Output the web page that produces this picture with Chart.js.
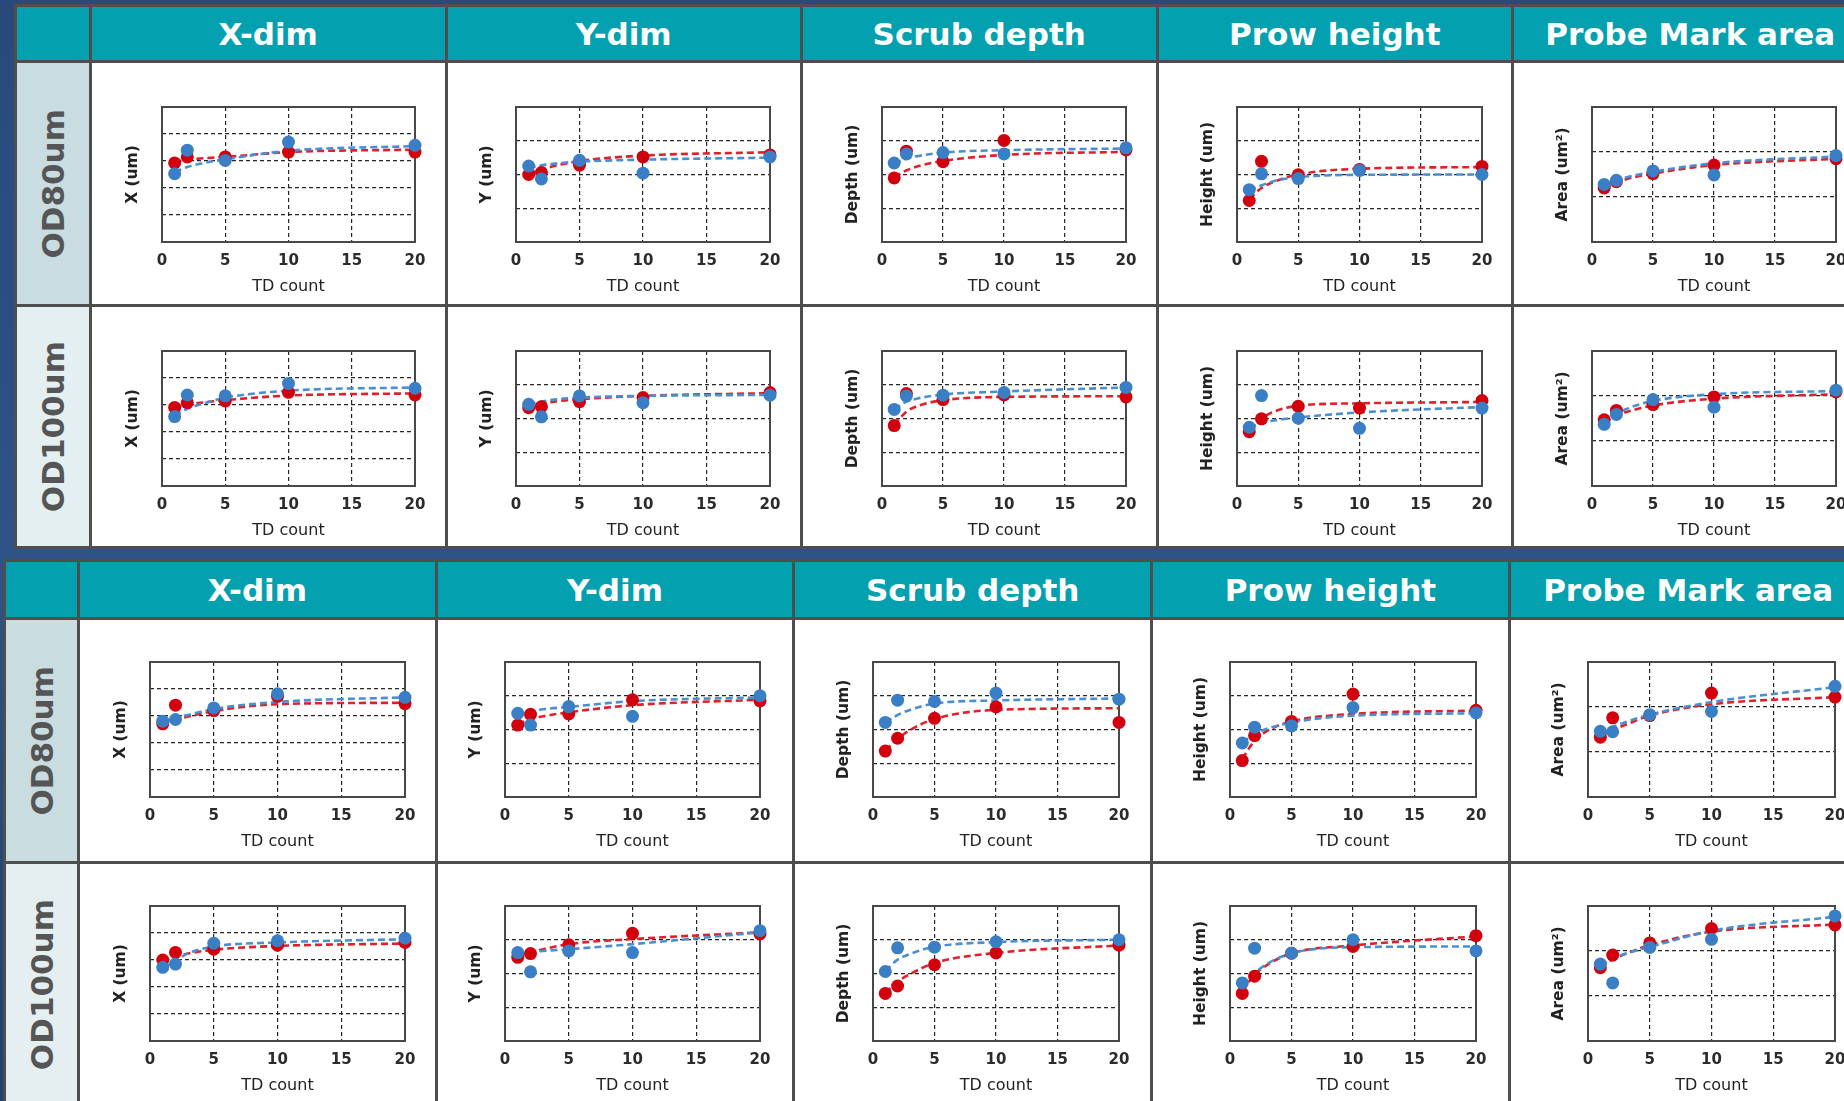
<!DOCTYPE html>
<html>
<head>
<meta charset="utf-8">
<title>TD count trends</title>
<script src="https://cdn.jsdelivr.net/npm/chart.js@4.4.1/dist/chart.umd.min.js"></script>
<style>
  html, body { margin: 0; padding: 0; width: 1844px; height: 1101px; overflow: hidden; }
  body {
    font-family: "DejaVu Sans", sans-serif;
    background: linear-gradient(180deg, #29497a 0%, #2e5387 50%, #20406e 100%);
  }
  .tbl { position: absolute; display: grid; background: #4e4e4e; gap: 3px; padding: 3px; }
  .hd {
    background: #03a0af; color: #fff; font-weight: bold; font-size: 31px;
    display: flex; align-items: center; justify-content: center; white-space: nowrap; overflow: hidden;
  }
  .rl { display: flex; align-items: center; justify-content: center; color: #555; font-weight: bold; font-size: 31px; }
  .rl span { writing-mode: vertical-rl; transform: rotate(180deg); }
  .cell { background: #fff; position: relative; overflow: hidden; }
  .cell canvas { position: absolute; left: 0; top: 0; }
</style>
</head>
<body>
<div id="t1" class="tbl"></div>
<div id="t2" class="tbl"></div>
<script>
/* Values are read off the picture, in grid-line units counted from the bottom of each box.
 * Column order everywhere: X-dim, Y-dim, Scrub depth, Prow height, Probe Mark area. */
var METRICS = ["X-dim", "Y-dim", "Scrub depth", "Prow height", "Probe Mark area"];
var Y_TITLES = ["X (um)", "Y (um)", "Depth (um)", "Height (um)", "Area (um\u00B2)"];
var Y_DIVS = [5, 4, 4, 4, 3];
var ROW_NAMES = ["OD80um", "OD100um"];
var X_TICKS = [0, 5, 10, 15, 20];
var TD = [1, 2, 5, 10, 20];          // measured points
var FIT_TD = [1, 2, 3, 5, 10, 20];   // where the dashed fit lines were read

// ---- upper table ----
var T1_OD80_RED  = [[2.93, 3.15, 3.15, 3.33, 3.33], [2.00, 2.06, 2.28, 2.52, 2.58], [1.90, 2.69, 2.38, 3.01, 2.73], [1.23, 2.39, 1.99, 2.15, 2.24], [1.20, 1.34, 1.52, 1.71, 1.85]];
var T1_OD80_BLUE = [[2.53, 3.40, 3.02, 3.70, 3.58], [2.25, 1.87, 2.42, 2.04, 2.52], [2.34, 2.61, 2.65, 2.61, 2.79], [1.55, 2.02, 1.88, 2.12, 2.00], [1.28, 1.37, 1.58, 1.49, 1.92]];
var T1_OD80_RED_FIT  = [[2.96, 3.04, 3.09, 3.15, 3.33, 3.42], [2.03, 2.15, 2.25, 2.40, 2.56, 2.66], [1.92, 2.12, 2.25, 2.40, 2.58, 2.67], [1.28, 1.60, 1.78, 2.00, 2.17, 2.22], [1.20, 1.32, 1.41, 1.52, 1.71, 1.85]];
var T1_OD80_BLUE_FIT = [[2.60, 2.78, 2.90, 3.06, 3.38, 3.55], [2.20, 2.27, 2.32, 2.38, 2.44, 2.50], [2.32, 2.47, 2.55, 2.65, 2.72, 2.77], [1.53, 1.68, 1.80, 1.92, 1.99, 2.00], [1.26, 1.37, 1.45, 1.56, 1.75, 1.90]];

var T1_OD100_RED  = [[2.91, 3.09, 3.15, 3.47, 3.37], [2.32, 2.35, 2.50, 2.62, 2.77], [1.79, 2.74, 2.56, 2.70, 2.64], [1.61, 1.99, 2.36, 2.31, 2.53], [1.47, 1.68, 1.81, 1.98, 2.09]];
var T1_OD100_BLUE = [[2.57, 3.37, 3.34, 3.80, 3.62], [2.42, 2.05, 2.67, 2.47, 2.69], [2.27, 2.67, 2.69, 2.77, 2.92], [1.74, 2.68, 2.01, 1.71, 2.31], [1.37, 1.59, 1.92, 1.75, 2.13]];
var T1_OD100_RED_FIT  = [[2.93, 3.02, 3.08, 3.18, 3.35, 3.43], [2.35, 2.44, 2.50, 2.57, 2.67, 2.75], [1.81, 2.20, 2.38, 2.54, 2.64, 2.66], [1.66, 2.00, 2.20, 2.38, 2.45, 2.49], [1.42, 1.57, 1.66, 1.79, 1.94, 2.04]];
var T1_OD100_BLUE_FIT = [[2.60, 2.86, 3.02, 3.27, 3.53, 3.65], [2.42, 2.50, 2.56, 2.62, 2.67, 2.70], [2.27, 2.50, 2.60, 2.71, 2.80, 2.92], [1.74, 1.86, 1.94, 2.03, 2.18, 2.34], [1.40, 1.60, 1.73, 1.89, 2.04, 2.11]];

// ---- lower table ----
var T2_OD80_RED  = [[2.71, 3.40, 3.20, 3.73, 3.46], [2.13, 2.45, 2.46, 2.88, 2.85], [1.36, 1.74, 2.33, 2.67, 2.21], [1.08, 1.82, 2.24, 3.05, 2.57], [1.33, 1.76, 1.81, 2.31, 2.22]];
var T2_OD80_BLUE = [[2.81, 2.87, 3.30, 3.82, 3.69], [2.48, 2.13, 2.68, 2.39, 3.00], [2.21, 2.87, 2.83, 3.08, 2.90], [1.60, 2.07, 2.11, 2.65, 2.49], [1.46, 1.45, 1.83, 1.90, 2.46]];
var T2_OD80_RED_FIT  = [[2.75, 2.87, 2.98, 3.18, 3.44, 3.49], [2.16, 2.30, 2.39, 2.51, 2.72, 2.88], [1.38, 1.72, 1.98, 2.31, 2.58, 2.63], [1.13, 1.67, 1.95, 2.24, 2.46, 2.56], [1.36, 1.49, 1.60, 1.81, 2.06, 2.22]];
var T2_OD80_BLUE_FIT = [[2.81, 2.93, 3.04, 3.26, 3.52, 3.69], [2.43, 2.53, 2.60, 2.67, 2.84, 2.95], [2.21, 2.43, 2.58, 2.77, 2.86, 2.92], [1.62, 1.87, 2.02, 2.21, 2.41, 2.48], [1.41, 1.55, 1.66, 1.83, 2.11, 2.44]];

var T2_OD100_RED  = [[3.00, 3.28, 3.40, 3.55, 3.65], [2.48, 2.59, 2.85, 3.19, 3.17], [1.41, 1.63, 2.26, 2.61, 2.84], [1.41, 1.92, 2.60, 2.80, 3.12], [1.63, 1.91, 2.18, 2.50, 2.58]];
var T2_OD100_BLUE = [[2.73, 2.85, 3.62, 3.71, 3.81], [2.62, 2.05, 2.67, 2.62, 3.27], [2.06, 2.76, 2.78, 2.94, 3.00], [1.72, 2.75, 2.60, 3.00, 2.67], [1.71, 1.29, 2.08, 2.26, 2.78]];
var T2_OD100_RED_FIT  = [[2.94, 3.12, 3.24, 3.38, 3.52, 3.61], [2.52, 2.62, 2.72, 2.87, 3.02, 3.22], [1.43, 1.76, 1.98, 2.31, 2.61, 2.83], [1.47, 1.97, 2.25, 2.60, 2.83, 3.10], [1.65, 1.81, 1.93, 2.13, 2.43, 2.59]];
var T2_OD100_BLUE_FIT = [[2.73, 2.97, 3.25, 3.50, 3.65, 3.77], [2.57, 2.63, 2.67, 2.72, 2.87, 3.22], [2.08, 2.41, 2.58, 2.79, 2.93, 3.00], [1.67, 2.01, 2.28, 2.60, 2.78, 2.80], [1.69, 1.83, 1.94, 2.09, 2.45, 2.76]];

var COL = { red: "#d2000c", blue: "#3a7fc5", redFit: "#e0202b", blueFit: "#4a8fd2" };
var FONT = "'DejaVu Sans', sans-serif";

// Placement of each table and of the plot box inside its cells (px).
var LAYOUT = {
  t1: { left: 14, top: 4, labelW: 72, colW: 352.5, headH: 53, rowH: [241, 239], labelBg: ["#c8dce1", "#e4eff1"],
        boxTop: 44, boxH: 135, boxLeft: [70, 68, 79, 78, 78], boxRight: [29, 30, 29, 29, 30] },
  t2: { left: 3, top: 559, labelW: 71, colW: 354.7, headH: 55, rowH: [241, 241], labelBg: ["#c9dde1", "#e5eff2"],
        boxTop: 42, boxH: 135, boxLeft: [70, 67, 78, 77, 77], boxRight: [29, 32, 30, 31, 30] }
};

var TABLES = [
  { id: "t1", rows: [
    { red: T1_OD80_RED, blue: T1_OD80_BLUE, redFit: T1_OD80_RED_FIT, blueFit: T1_OD80_BLUE_FIT },
    { red: T1_OD100_RED, blue: T1_OD100_BLUE, redFit: T1_OD100_RED_FIT, blueFit: T1_OD100_BLUE_FIT }
  ] },
  { id: "t2", rows: [
    { red: T2_OD80_RED, blue: T2_OD80_BLUE, redFit: T2_OD80_RED_FIT, blueFit: T2_OD80_BLUE_FIT },
    { red: T2_OD100_RED, blue: T2_OD100_BLUE, redFit: T2_OD100_RED_FIT, blueFit: T2_OD100_BLUE_FIT }
  ] }
];

/* solid frame round the plot area, drawn over the dashed grid */
var boxPlugin = {
  id: "box",
  beforeDatasetsDraw: function (chart) {
    var a = chart.chartArea, ctx = chart.ctx;
    ctx.save();
    ctx.strokeStyle = "#484848";
    ctx.lineWidth = 2;
    ctx.strokeRect(a.left, a.top, a.right - a.left, a.bottom - a.top);
    ctx.restore();
  }
};

function pairs(xs, ys) {
  return xs.map(function (x, i) { return { x: x, y: ys[i] }; });
}
function ptsDS(data, color, order) {
  return { data: data, backgroundColor: color, borderWidth: 0, pointRadius: 6.5, showLine: false, order: order, clip: false };
}
function fitDS(data, color, order) {
  return { data: data, borderColor: color, borderWidth: 2.6, borderDash: [7, 4], pointRadius: 0, showLine: true,
           cubicInterpolationMode: "monotone", order: order, clip: false };
}

function makeChart(canvas, m, row, L, R, T, B) {
  var yMax = Y_DIVS[m];
  var xTitleLH = 16 * 1.2;
  new Chart(canvas, {
    type: "scatter",
    data: { datasets: [
      fitDS(pairs(FIT_TD, row.redFit[m]), COL.redFit, 4),
      fitDS(pairs(FIT_TD, row.blueFit[m]), COL.blueFit, 3),
      ptsDS(pairs(TD, row.red[m]), COL.red, 2),
      ptsDS(pairs(TD, row.blue[m]), COL.blue, 1)
    ] },
    options: {
      responsive: false, animation: false, events: [],
      layout: { padding: { left: L - 38, top: T, right: R, bottom: 0 } },
      plugins: { legend: { display: false }, tooltip: { enabled: false } },
      scales: {
        x: {
          type: "linear", min: 0, max: 20,
          afterBuildTicks: function (s) { s.ticks = X_TICKS.map(function (v) { return { value: v }; }); },
          afterFit: function (s) { s.height = B; s.paddingLeft = 0; s.paddingRight = 0; },
          grid: { drawTicks: false, lineWidth: 1.2,
                  color: function (c) { var v = c.tick && c.tick.value; return (v === 0 || v === 20) ? "rgba(0,0,0,0)" : "#262626"; } },
          border: { display: false, dash: [4, 3] },
          ticks: { color: "#2b2b2b", padding: 10, maxRotation: 0, autoSkip: false, font: { family: FONT, size: 15, weight: "bold" } },
          title: { display: true, text: "TD count", color: "#222", font: { family: FONT, size: 16 },
                   padding: { top: 0, bottom: B - 45 - xTitleLH / 2 } }
        },
        y: {
          type: "linear", min: 0, max: yMax,
          afterBuildTicks: function (s) {
            var t = [];
            for (var i = 0; i <= yMax; i++) t.push({ value: i });
            s.ticks = t;
          },
          afterFit: function (s) { s.width = 38; },
          grid: { drawTicks: false, lineWidth: 1.2,
                  color: function (c) { var v = c.tick && c.tick.value; return (v === 0 || v === yMax) ? "rgba(0,0,0,0)" : "#262626"; } },
          border: { display: false, dash: [4, 3] },
          ticks: { display: false },
          title: { display: true, text: Y_TITLES[m], color: "#222", font: { family: FONT, size: 15.5, weight: "bold" },
                   padding: { top: 0, bottom: 0 } }
        }
      }
    },
    plugins: [boxPlugin]
  });
}

function buildTable(tb) {
  var lay = LAYOUT[tb.id];
  var el = document.getElementById(tb.id);
  el.style.left = lay.left + "px";
  el.style.top = lay.top + "px";
  el.style.gridTemplateColumns = lay.labelW + "px repeat(5, " + lay.colW + "px)";
  el.style.gridTemplateRows = lay.headH + "px " + lay.rowH.join("px ") + "px";

  var corner = document.createElement("div");
  corner.className = "hd";
  el.appendChild(corner);
  METRICS.forEach(function (name) {
    var h = document.createElement("div");
    h.className = "hd";
    h.textContent = name;
    el.appendChild(h);
  });

  tb.rows.forEach(function (row, r) {
    var lab = document.createElement("div");
    lab.className = "rl";
    lab.style.background = lay.labelBg[r];
    lab.innerHTML = "<span>" + ROW_NAMES[r] + "</span>";
    el.appendChild(lab);

    var h = lay.rowH[r];
    METRICS.forEach(function (name, m) {
      var cell = document.createElement("div");
      cell.className = "cell";
      var cv = document.createElement("canvas");
      var w = Math.floor(lay.colW);
      cv.width = w; cv.height = h;
      cv.style.width = w + "px"; cv.style.height = h + "px";
      cv.setAttribute("role", "img");
      cv.setAttribute("aria-label", name + " vs TD count, " + ROW_NAMES[r]);
      cell.appendChild(cv);
      el.appendChild(cell);
      var B = h - lay.boxTop - lay.boxH;
      makeChart(cv, m, row, lay.boxLeft[m], lay.boxRight[m], lay.boxTop, B);
    });
  });
}

TABLES.forEach(buildTable);
</script>
</body>
</html>
